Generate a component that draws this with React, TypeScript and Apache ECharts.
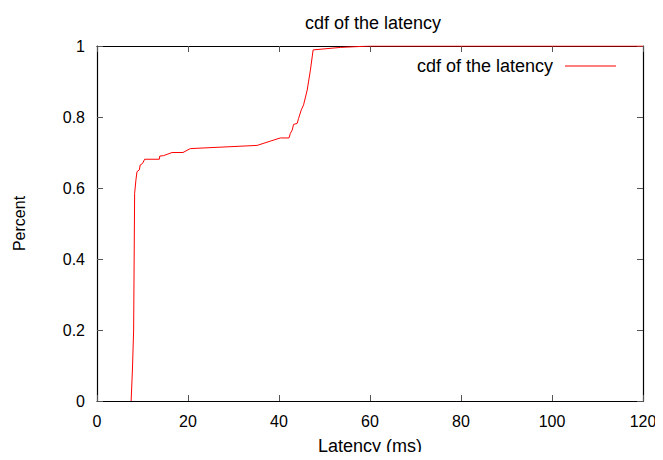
import React, { useEffect, useRef } from "react";
import * as echarts from "echarts";

// Latency samples (ms) and the cumulative fraction at each one
const latencyMs = [
  7.5, 7.8, 8.05, 8.27, 8.56, 8.79, 9.3, 9.5, 10.0, 10.47, 13.7, 13.8, 14.6, 16.5,
  18.9, 20.5, 35.2, 38.1, 40.3, 42.2, 42.5, 42.9, 43.2, 44.0, 44.3, 44.9, 45.4,
  46.2, 46.9, 47.5, 53.5, 60.0, 120.0,
];
const cdfValues = [
  0.0, 0.093, 0.2, 0.585, 0.623, 0.646, 0.651, 0.665, 0.669, 0.681, 0.681, 0.69,
  0.691, 0.7, 0.7, 0.711, 0.72, 0.732, 0.741, 0.741, 0.754, 0.763, 0.779, 0.782,
  0.796, 0.82, 0.834, 0.876, 0.932, 0.989, 0.996, 1.0, 1.0,
];
const xTicks = [0, 20, 40, 60, 80, 100, 120];
const yTickStep = 0.2;

const FONT = "'Liberation Sans', Arial, sans-serif";

export default function App() {
  const ref = useRef<HTMLDivElement>(null);

  useEffect(() => {
    if (!ref.current) return;
    const chart = echarts.init(ref.current, undefined, { renderer: "svg" });
    const points = latencyMs.map((x, i) => [x, cdfValues[i]]);
    const xMin = xTicks[0];
    const xMax = xTicks[xTicks.length - 1];
    const xStep = xTicks[1] - xTicks[0];

    const tick = { show: true, inside: true, length: 6, lineStyle: { color: "#555", width: 1 } };
    const line = { show: true, onZero: false, lineStyle: { color: "#000", width: 1.2 } };

    chart.setOption({
      animation: false,
      textStyle: { fontFamily: FONT },
      title: {
        text: "cdf of the latency",
        left: 300,
        top: 9,
        textStyle: { fontFamily: FONT, fontSize: 18, fontWeight: "normal", color: "#000" },
      },
      legend: {
        right: 42,
        top: 52,
        align: "right",
        icon: "rect",
        itemWidth: 51,
        itemHeight: 1,
        textStyle: { fontFamily: FONT, fontSize: 18, color: "#000", padding: [0, 7, 0, 0] },
        data: ["cdf of the latency"],
      },
      grid: { left: 97, right: 20, top: 46, bottom: 59 },
      xAxis: [
        {
          type: "value",
          min: xMin,
          max: xMax,
          interval: xStep,
          name: "Latency (ms)",
          nameLocation: "middle",
          nameGap: 36,
          nameTextStyle: { fontFamily: FONT, fontSize: 18, color: "#000" },
          axisLine: line,
          axisTick: tick,
          axisLabel: { fontFamily: FONT, fontSize: 16, color: "#000", margin: 12 },
          splitLine: { show: false },
        },
        {
          type: "value",
          position: "top",
          min: xMin,
          max: xMax,
          interval: xStep,
          axisLine: line,
          axisTick: tick,
          axisLabel: { show: false },
          splitLine: { show: false },
        },
      ],
      yAxis: [
        {
          type: "value",
          min: 0,
          max: 1,
          interval: yTickStep,
          name: "Percent",
          nameLocation: "middle",
          nameGap: 70,
          nameTextStyle: { fontFamily: FONT, fontSize: 16, color: "#000" },
          axisLine: line,
          axisTick: tick,
          axisLabel: {
            fontFamily: FONT,
            fontSize: 16,
            color: "#000",
            margin: 12,
            formatter: (v: number) => (Number.isInteger(v) ? String(v) : v.toFixed(1)),
          },
          splitLine: { show: false },
        },
        {
          type: "value",
          position: "right",
          min: 0,
          max: 1,
          interval: yTickStep,
          axisLine: line,
          axisTick: tick,
          axisLabel: { show: false },
          splitLine: { show: false },
        },
      ],
      series: [
        {
          name: "cdf of the latency",
          type: "line",
          data: points,
          showSymbol: false,
          symbol: "none",
          lineStyle: { color: "#ff0000", width: 1 },
          itemStyle: { color: "#ff0000" },
          z: 3,
        },
      ],
    });

    return () => chart.dispose();
  }, []);

  return <div ref={ref} style={{ width: 663, height: 460, margin: -8 }} />;
}
